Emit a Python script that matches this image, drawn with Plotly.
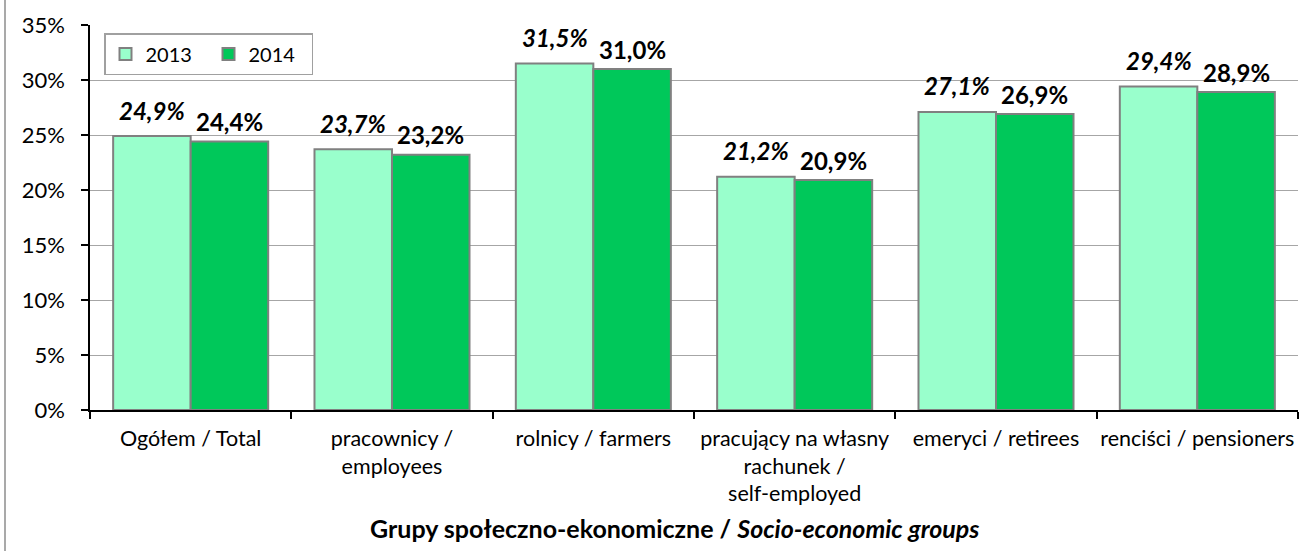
import plotly.graph_objects as go

categories = [
    "Ogółem / Total",
    "pracownicy /<br>employees",
    "rolnicy / farmers",
    "pracujący na własny<br>rachunek /<br>self-employed",
    "emeryci / retirees",
    "renciści / pensioners",
]
series_names = ["2013", "2014"]
values_2013 = [24.9, 23.7, 31.5, 21.2, 27.1, 29.4]
values_2014 = [24.4, 23.2, 31.0, 20.9, 26.9, 28.9]
y_ticks = [0, 5, 10, 15, 20, 25, 30, 35]

W, H = 1300, 551
# plot area in window coords: x 90..1298, y 25..410
ML, MR = 90, W - 1298
MT, MB = 25, H - 410
PW, PH = W - ML - MR, H - MT - MB

FONT = "Lato"
C2013 = "#99FFCC"
C2014 = "#00C85A"
EDGE = "#808080"


def fmt(v):
    return f"{v:.1f}".replace(".", ",") + "%"


fig = go.Figure()
fig.add_trace(go.Bar(
    name=series_names[0], x=categories, y=values_2013,
    marker=dict(color=C2013, line=dict(color=EDGE, width=2)),
))
fig.add_trace(go.Bar(
    name=series_names[1], x=categories, y=values_2014,
    marker=dict(color=C2014, line=dict(color=EDGE, width=2)),
))

bargap = 0.23
half = PW / len(categories) * (1 - bargap) / 4

annotations = []
for cat, v in zip(categories, values_2013):
    annotations.append(dict(
        x=cat, y=v, xref="x", yref="y", xshift=-half, yshift=26,
        text=f"<b><i>{fmt(v)}</i></b>", showarrow=False,
        yanchor="middle", font=dict(family=FONT, size=24, color="black"),
    ))
for cat, v in zip(categories, values_2014):
    annotations.append(dict(
        x=cat, y=v, xref="x", yref="y", xshift=half, yshift=20,
        text=f"<b>{fmt(v)}</b>", showarrow=False,
        yanchor="middle", font=dict(family=FONT, size=24, color="black"),
    ))

annotations.append(dict(
    x=(674 - ML) / PW, y=-(528 - 410) / PH, xref="paper", yref="paper",
    text="<b>Grupy społeczno-ekonomiczne / <i>Socio-economic groups</i></b>",
    showarrow=False, xanchor="center", yanchor="middle",
    font=dict(family=FONT, size=25, color="black"),
))

fig.update_layout(
    width=W, height=H,
    margin=dict(l=ML, r=MR, t=MT, b=MB, pad=0, autoexpand=False),
    paper_bgcolor="white", plot_bgcolor="white",
    barmode="group", bargap=bargap, bargroupgap=0,
    font=dict(family=FONT, size=22, color="black"),
    showlegend=True,
    legend=dict(
        orientation="h", x=(104 - ML) / PW, y=(410 - 33) / PH,
        xanchor="left", yanchor="top",
        bgcolor="white", bordercolor="#A0A0A0", borderwidth=1.5,
        font=dict(family=FONT, size=20, color="black"),
        entrywidth=58, itemwidth=30,
    ),
    annotations=annotations,
    shapes=[dict(
        type="line", xref="paper", yref="paper",
        x0=(5 - ML) / PW, x1=(5 - ML) / PW, y0=-MB / PH, y1=1 + MT / PH,
        line=dict(color="#8C8C8C", width=1.5),
    )],
)

fig.update_xaxes(
    type="category", showline=True, linecolor="black", linewidth=1.5,
    ticks="outside", tickson="boundaries", ticklen=7, tickcolor="black",
    tickwidth=1.5, showgrid=False, tickfont=dict(family=FONT, size=21.5),
    ticklabelstandoff=8, tickangle=0, automargin=False,
)
fig.update_yaxes(
    range=[0, 35], tickvals=y_ticks, ticktext=[f"{t}%" for t in y_ticks],
    showline=True, linecolor="black", linewidth=1.5,
    ticks="outside", ticklen=7, tickcolor="black", tickwidth=1.5,
    showgrid=True, gridcolor="#A6A6A6", gridwidth=1, zeroline=False,
    tickfont=dict(family=FONT, size=22), ticklabelstandoff=12,
    automargin=False,
)

fig.write_html(
    "out.html",
    config={"displayModeBar": False},
    post_script="document.body.style.margin='0';document.body.style.overflow='hidden';",
)
